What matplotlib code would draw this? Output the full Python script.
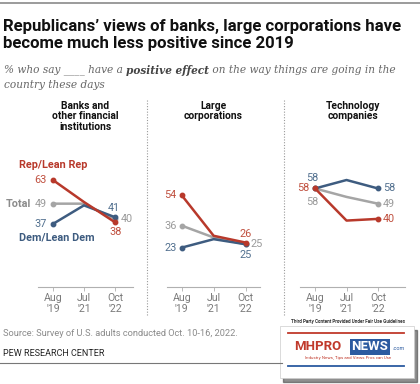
import matplotlib
matplotlib.use('Agg')
import matplotlib.pyplot as plt
from matplotlib.patches import Rectangle
from matplotlib.lines import Line2D

periods = ["Aug\n'19", "Jul\n'21", "Oct\n'22"]
panels = ["Banks and\nother financial\ninstitutions", "Large\ncorporations", "Technology\ncompanies"]
rep = [[63, 50, 38], [54, 30, 26], [58, 39, 40]]
total = [[49, 49, 40], [36, 29, 25], [58, 53, 49]]
dem = [[37, 48, 41], [23, 28, 25], [58, 63, 58]]

RED = '#b8392b'
RED_T = '#c0503f'
BLUE = '#3e5c80'
BLUE_T = '#52708f'
GRAY = '#a5a5a5'
GRAY_T = '#9a9a9a'
SANS = ['Roboto', 'DejaVu Sans']

W, H = 420, 384
fig = plt.figure(figsize=(W / 100, H / 100), dpi=100)

def fx(px):
    return px / W

def fy(py):
    return 1 - py / H

# header
fig.add_artist(Line2D([0, 1], [fy(3), fy(3)], color='#8a8a8a', lw=1.2))
fig.text(fx(3), fy(35), "Republicans\u2019 views of banks, large corporations have\nbecome much less positive since 2019",
         family=SANS, weight='bold', fontsize=12.1, color='#111111', va='center', linespacing=1.15)
SUB = dict(family='DejaVu Serif', style='italic', fontsize=7.6, va='center')
t1 = fig.text(fx(4), fy(70), "% who say ____ have a ", color='#666666', **SUB)
fig.canvas.draw()
r = fig.canvas.get_renderer()
bb = t1.get_window_extent(r)
t2 = fig.text(bb.x1 / W, fy(70), "positive effect", color='#444444', weight='bold', **SUB)
bb2 = t2.get_window_extent(r)
fig.text(bb2.x1 / W, fy(70), " on the way things are going in the", color='#666666', **SUB)
fig.text(fx(4), fy(85), "country these days", color='#666666', **SUB)

# axes geometry in pixels: left, width, xlim
geo = [(38, 95, (-0.48, 2.58)), (167, 93, (-0.46, 2.45)), (300, 105, (-0.48, 2.86))]
top_px, bot_px = 140, 286.5
ymax = 63 + (top_px - 180) / -1.69

axes = []
for i, (lft, wd, xl) in enumerate(geo):
    ax = fig.add_axes([fx(lft), fy(bot_px), wd / W, (bot_px - top_px) / H])
    ax.set_xlim(*xl)
    ax.set_ylim(0, ymax)
    for s in ['top', 'right', 'left']:
        ax.spines[s].set_visible(False)
    ax.spines['bottom'].set_color('#b0b0b0')
    ax.spines['bottom'].set_linewidth(0.8)
    ax.set_yticks([])
    ax.set_xticks(range(3))
    ax.set_xticklabels(periods, family=SANS, fontsize=7.6, color='#7a7a7a', linespacing=1.1)
    ax.tick_params(axis='x', length=3, width=0.6, color='#b0b0b0', pad=2)
    ax.patch.set_alpha(0)
    x = list(range(3))
    for vals, c, z in [(total[i], GRAY, 2), (dem[i], BLUE, 3), (rep[i], RED, 4)]:
        ax.plot(x, vals, color=c, lw=1.8, zorder=z, solid_capstyle='round')
        ax.plot([0, 2], [vals[0], vals[2]], 'o', color=c, ms=3.2, zorder=z)
    cx = (xl[0] + xl[1]) / 2
    axes.append(ax)
    fig.text(fx(lft + wd * (cx - xl[0]) / (xl[1] - xl[0])), fy(101), panels[i], family=SANS, weight='bold',
             fontsize=7.4, color='#111111', ha='center', va='top', linespacing=1.05)

def lab(ax, x, v, txt, c, dx, dy, ha='center', **kw):
    ax.annotate(txt, (x, v), xytext=(dx / 1.389, dy / 1.389), textcoords='offset points',
                ha=ha, va='center', color=c, fontsize=7.8, family=SANS, annotation_clip=False, **kw)

a1, a2, a3 = axes
# panel 1
lab(a1, 0, rep[0][0], str(rep[0][0]), RED_T, -6, 0, ha='right')
lab(a1, 0, total[0][0], str(total[0][0]), GRAY_T, -6, 0, ha='right')
lab(a1, 0, total[0][0], "Total", '#8c8c8c', -22, 0, ha='right', weight='bold')
lab(a1, 0, dem[0][0], str(dem[0][0]), BLUE_T, -6, 0, ha='right')
lab(a1, 0, rep[0][0], "Rep/Lean Rep", RED, -34, 15, ha='left', weight='bold')
lab(a1, 0, dem[0][0], "Dem/Lean Dem", BLUE, -34, -14, ha='left', weight='bold')
lab(a1, 2, dem[0][2], str(dem[0][2]), BLUE_T, -1, 9)
lab(a1, 2, total[0][2], str(total[0][2]), GRAY_T, 6, 0, ha='left')
lab(a1, 2, rep[0][2], str(rep[0][2]), RED_T, 1, -10)
# panel 2
lab(a2, 0, rep[1][0], str(rep[1][0]), RED_T, -5, 0, ha='right')
lab(a2, 0, total[1][0], str(total[1][0]), GRAY_T, -5, 0, ha='right')
lab(a2, 0, dem[1][0], str(dem[1][0]), BLUE_T, -5, 0, ha='right')
lab(a2, 2, rep[1][2], str(rep[1][2]), RED_T, 0, 9)
lab(a2, 2, total[1][2], str(total[1][2]), GRAY_T, 5, 0, ha='left')
lab(a2, 2, dem[1][2], str(dem[1][2]), BLUE_T, 0, -11)
# panel 3
lab(a3, 0, dem[2][0], str(dem[2][0]), BLUE_T, -3, 10)
lab(a3, 0, rep[2][0], str(rep[2][0]), RED_T, -6, 0, ha='right')
lab(a3, 0, total[2][0], str(total[2][0]), GRAY_T, -3, -14)
lab(a3, 2, dem[2][2], str(dem[2][2]), BLUE_T, 5, 0, ha='left')
lab(a3, 2, total[2][2], str(total[2][2]), GRAY_T, 5, 0, ha='left')
lab(a3, 2, rep[2][2], str(rep[2][2]), RED_T, 5, 0, ha='left')

# dotted separators
for xp in [147, 284]:
    fig.add_artist(Line2D([fx(xp), fx(xp)], [fy(100), fy(316)], color='#9a9a9a', lw=0.8, ls=(0, (1, 1.5))))

# footer
fig.text(fx(3), fy(334), "Source: Survey of U.S. adults conducted Oct. 10-16, 2022.", family=SANS,
         fontsize=6.7, color='#8a8a8a', va='center')
fig.text(fx(3), fy(353), "PEW RESEARCH CENTER", family=SANS, fontsize=6.5, color='#222222', va='center')
fig.add_artist(Line2D([0, fx(282)], [fy(363), fy(363)], color='#777777', lw=0.8))

# watermark logo
fig.add_artist(Rectangle((fx(283), fy(382)), fx(134), 52 / H, color='#444444', alpha=0.6))
fig.add_artist(Rectangle((fx(280), fy(378)), fx(134), 52 / H, facecolor='white', edgecolor='#cccccc', lw=0.5))
fig.text(fx(348), fy(322), "Third Party Content Provided Under Fair Use Guidelines", family=SANS,
         fontsize=3.3, color='#333333', ha='center', va='center', weight='bold')
fig.add_artist(Line2D([fx(288), fx(404)], [fy(333), fy(333)], color='#c0392b', lw=1.3))
fig.add_artist(Line2D([fx(288), fx(404)], [fy(366), fy(366)], color='#2b5aa0', lw=1.3))
fig.text(fx(318), fy(347), "MHPRO", family=SANS, fontsize=9.5, weight='bold', color='#c0392b',
         ha='center', va='center')
fig.text(fx(370), fy(347), "NEWS", family=SANS, fontsize=9.5, weight='bold', color='white', ha='center',
         va='center', bbox=dict(boxstyle='square,pad=0.1', fc='#2b5aa0', ec='none'))
fig.text(fx(393), fy(349), ".com", family=SANS, fontsize=4, color='#2b5aa0', ha='left', va='center')
fig.text(fx(348), fy(358), "Industry News, Tips and Views Pros can Use", family=SANS, fontsize=3.2,
         color='#c0392b', ha='center', va='center')

fig.savefig('out.png', dpi=100)
